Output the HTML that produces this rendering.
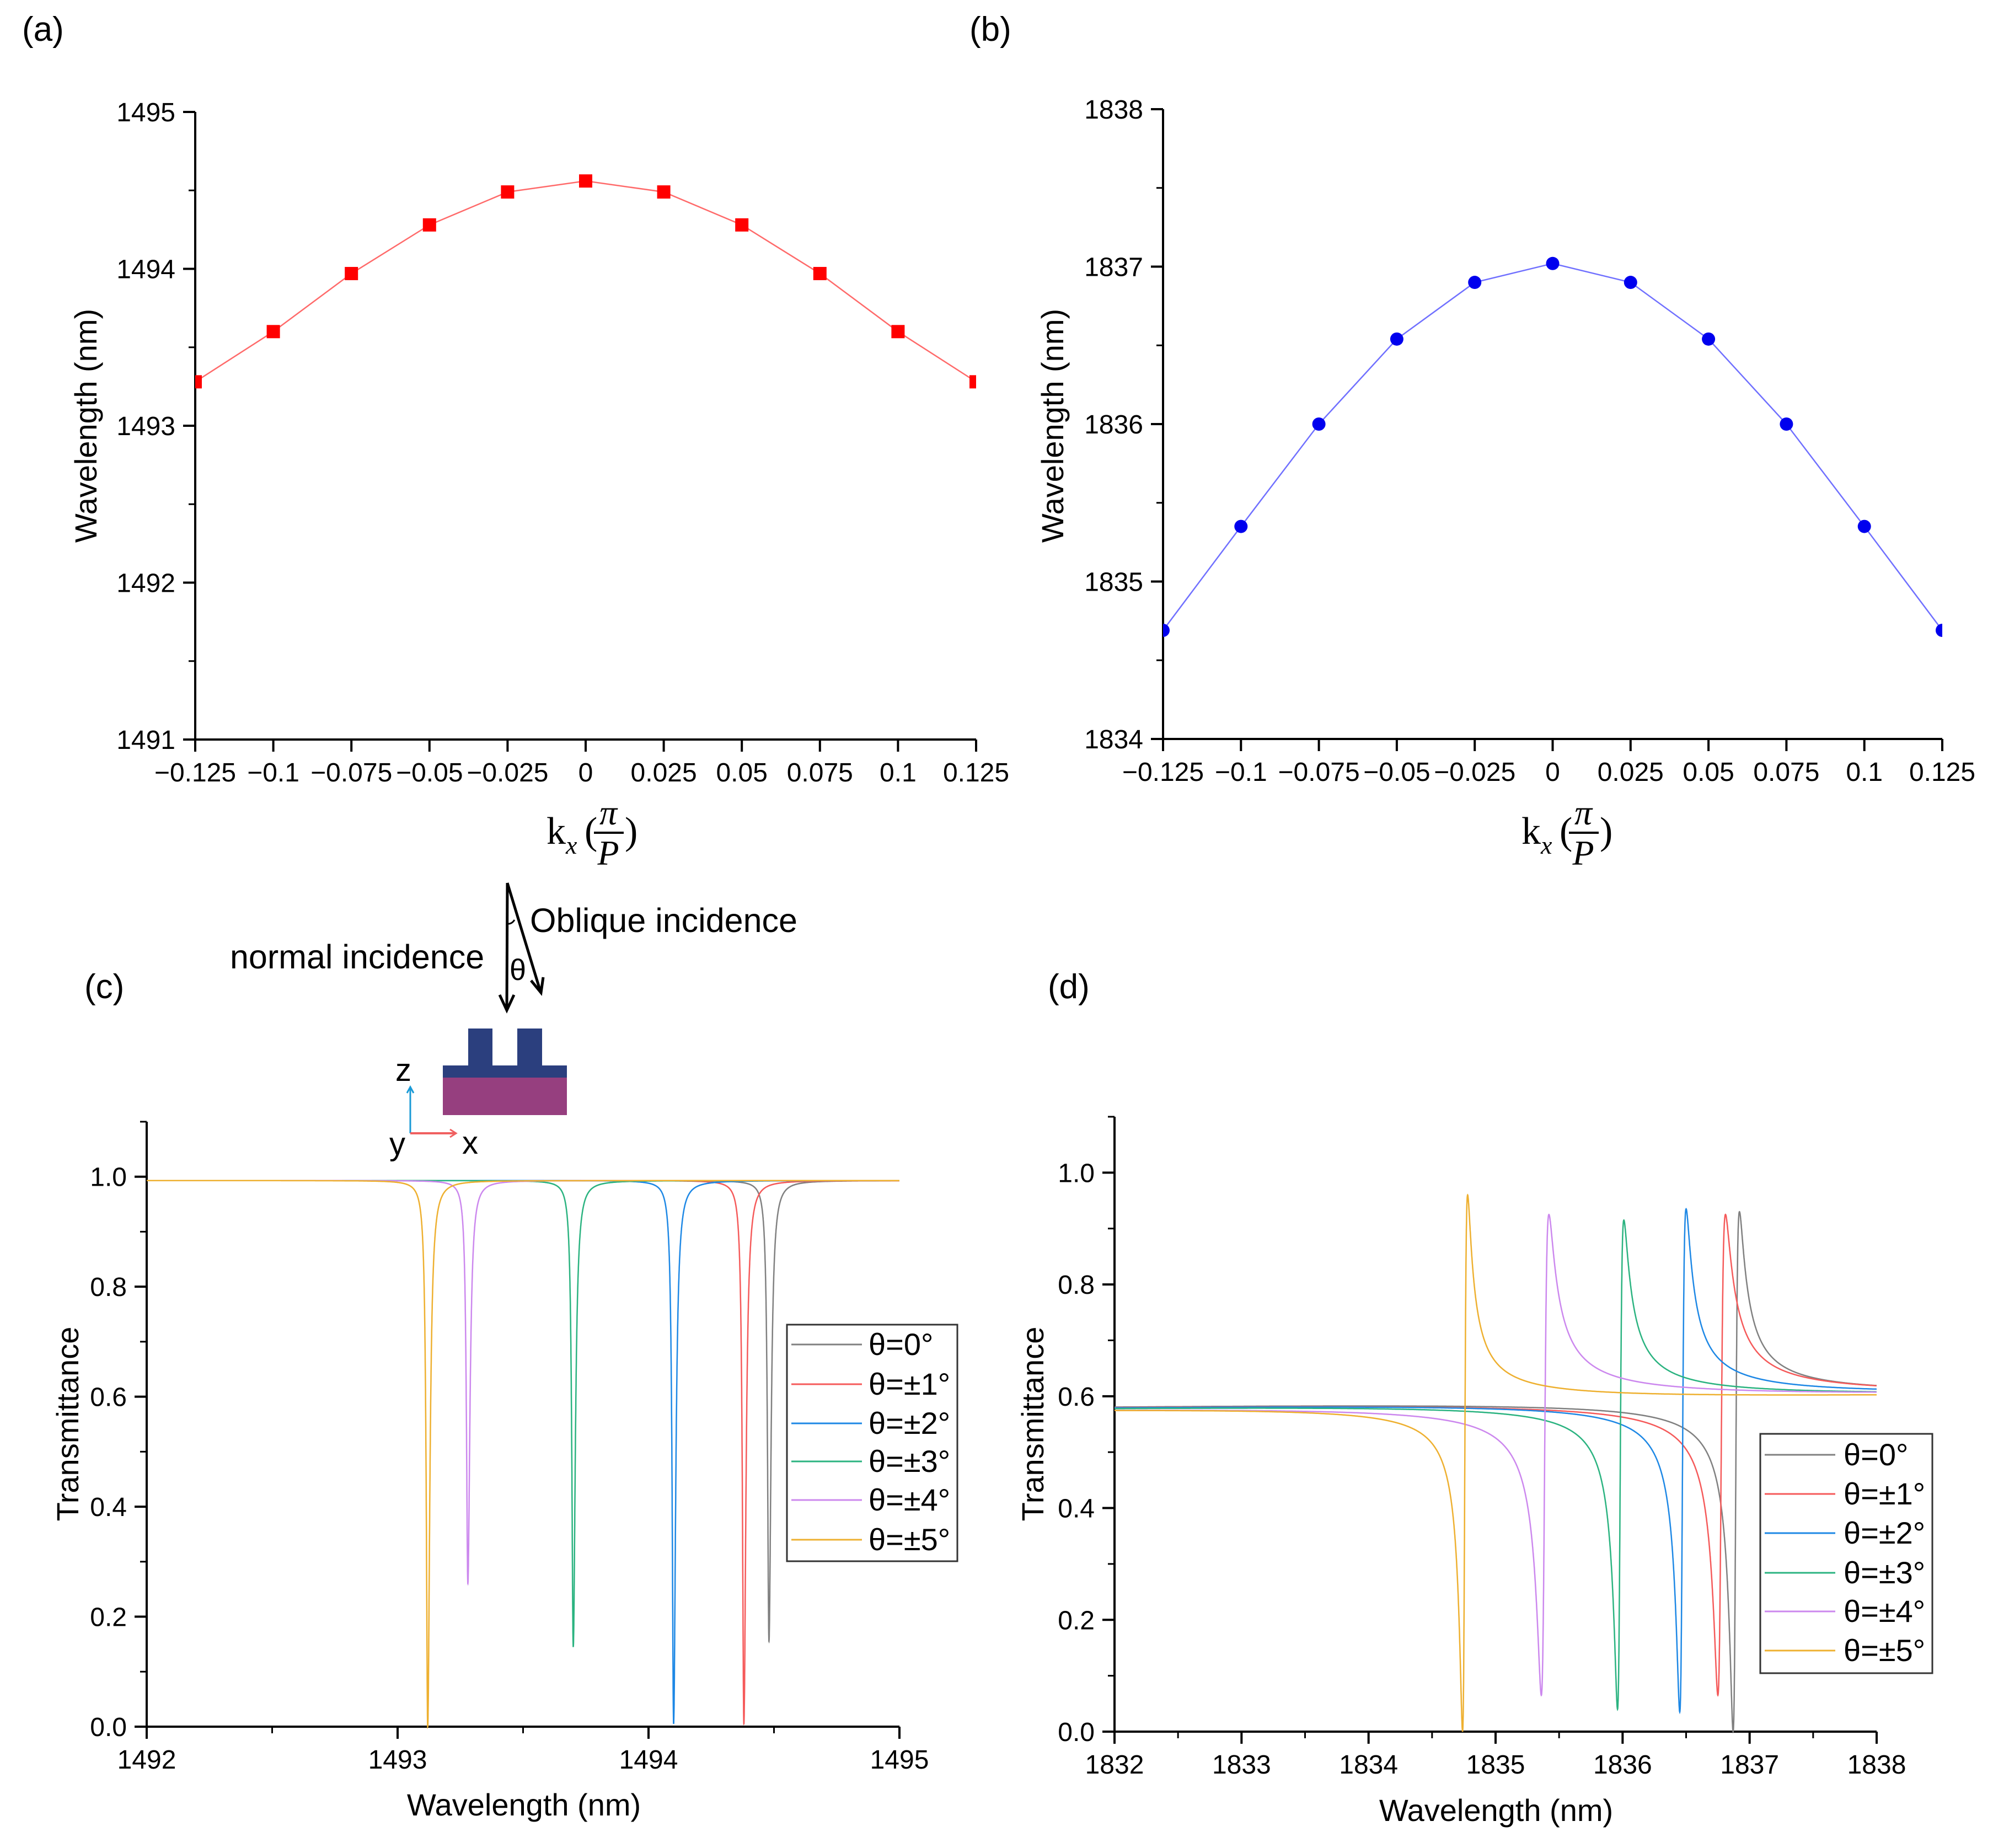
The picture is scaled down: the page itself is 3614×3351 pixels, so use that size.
<!DOCTYPE html>
<html><head><meta charset="utf-8"><style>
html,body{margin:0;padding:0;background:#fff;}
svg{display:block;font-family:"Liberation Sans",Arial,sans-serif;}
</style></head><body>
<svg id="fig" width="3614" height="3351" viewBox="0 0 3614 3351" xmlns="http://www.w3.org/2000/svg">
<rect width="3614" height="3351" fill="#fff"/>
<text x="40" y="74" font-size="62">(a)</text>
<text x="1758" y="74" font-size="62">(b)</text>
<text x="153" y="1810" font-size="62">(c)</text>
<text x="1900" y="1810" font-size="62">(d)</text>
<g>
<text x="417" y="1756" font-size="61">normal incidence</text>
<text x="961" y="1690" font-size="61">Oblique incidence</text>
<line x1="920" y1="1601" x2="919" y2="1830" stroke="#000" stroke-width="5"/>
<polyline points="906,1804 919,1832 932,1804" fill="none" stroke="#000" stroke-width="5"/>
<line x1="920" y1="1601" x2="980" y2="1798" stroke="#000" stroke-width="5"/>
<polyline points="963,1778 981,1800 985,1772" fill="none" stroke="#000" stroke-width="5"/>
<path d="M920,1675 Q928,1676 933,1668" fill="none" stroke="#000" stroke-width="3"/>
<text x="924" y="1777" font-size="54">θ</text>
<rect x="849" y="1865" width="44" height="70" fill="#2b3f7e"/>
<rect x="938" y="1865" width="45" height="70" fill="#2b3f7e"/>
<rect x="803" y="1932" width="225" height="23" fill="#2b3f7e"/>
<rect x="803" y="1954" width="225" height="68" fill="#963f7f"/>
<line x1="744" y1="2055" x2="744" y2="1972" stroke="#1a9ad6" stroke-width="3"/>
<polyline points="738,1982 744,1971 750,1982" fill="none" stroke="#1a9ad6" stroke-width="3"/>
<line x1="744" y1="2055" x2="826" y2="2055" stroke="#f06060" stroke-width="4"/>
<polyline points="816,2048 827,2055 816,2062" fill="none" stroke="#f06060" stroke-width="3"/>
<text x="717" y="1960" font-size="58">z</text>
<text x="706" y="2094" font-size="58">y</text>
<text x="838" y="2092" font-size="58">x</text>
</g>
</svg>
<script>
// ---- Panel (a) data ----
const kxValues = [-0.125,-0.1,-0.075,-0.05,-0.025,0,0.025,0.05,0.075,0.1,0.125];
const wavelengthA = [1493.28,1493.6,1493.97,1494.28,1494.49,1494.56,1494.49,1494.28,1493.97,1493.6,1493.28];
// ---- Panel (b) data ----
const wavelengthB = [1834.69,1835.35,1836.0,1836.54,1836.9,1837.02,1836.9,1836.54,1836.0,1835.35,1834.69];
const kxTickLabels = ['\u22120.125','\u22120.1','\u22120.075','\u22120.05','\u22120.025','0','0.025','0.05','0.075','0.1','0.125'];
const yTicksA = [1491,1492,1493,1494,1495];
const yTicksB = [1834,1835,1836,1837,1838];
// ---- Panel (c) data: resonance dips ----
const seriesNames = ['θ=0°','θ=±1°','θ=±2°','θ=±3°','θ=±4°','θ=±5°'];
const dipCenterC = [1494.48,1494.38,1494.10,1493.70,1493.28,1493.12];
const dipMinC = [0.155,0.005,0.005,0.145,0.26,0.0];
const dipWidthC = [0.007,0.007,0.007,0.007,0.007,0.007];
const baseC = [0.993,0.993,0.993,0.993,0.993,0.993];
const xTicksC = [1492,1493,1494,1495];
// ---- Panel (d) data: Fano resonances ----
const dipCenterD = [1836.87,1836.75,1836.45,1835.96,1835.36,1834.74];
const dipMinD = [0.0,0.065,0.035,0.04,0.065,0.0];
const peakCenterD = [1836.92,1836.81,1836.50,1836.01,1835.42,1834.78];
const peakValD = [0.93,0.925,0.935,0.915,0.925,0.96];
const baseLeftD = [0.585,0.585,0.584,0.583,0.582,0.581];
const baseRightD = [0.600,0.599,0.599,0.598,0.598,0.597];
const xTicksD = [1832,1833,1834,1835,1836,1837,1838];
const yTicksT = [0,0.2,0.4,0.6,0.8,1.0];
const colors = ['#808080','#f55a5a','#1e88e5','#2bb380','#cc88ee','#eeb030'];

const NS='http://www.w3.org/2000/svg';
const svg=document.getElementById('fig');
function mk(tag,attrs,parent){const e=document.createElementNS(NS,tag);for(const k in attrs)e.setAttribute(k,attrs[k]);(parent||svg).appendChild(e);return e;}
function scale(d0,d1,r0,r1){return v=>r0+(v-d0)*(r1-r0)/(d1-d0);}

function axes(P,name){
  const g=mk('g',{});
  
  
  mk('line',{x1:P.x0,y1:P.yb,x2:P.x0,y2:P.yt,stroke:'#000','stroke-width':4},g);
  mk('line',{x1:P.x0-2,y1:P.yb,x2:P.x1,y2:P.yb,stroke:'#000','stroke-width':4},g);
  P.yt_ticks.forEach((v,i)=>{
    const y=P.sy(v);
    mk('line',{x1:P.x0-22,y1:y,x2:P.x0,y2:y,stroke:'#000','stroke-width':4},g);
    const t=mk('text',{x:P.x0-36,y:y+17,'font-size':48,'text-anchor':'end'},g);
    
    
    t.textContent=P.ylab[i];
  });
  P.yminor.forEach(v=>{const y=P.sy(v);mk('line',{x1:P.x0-12,y1:y,x2:P.x0,y2:y,stroke:'#000','stroke-width':3},g);});
  P.xt_ticks.forEach((v,i)=>{
    const x=P.sx(v);
    mk('line',{x1:x,y1:P.yb,x2:x,y2:P.yb+22,stroke:'#000','stroke-width':4},g);
    const t=mk('text',{x:x,y:P.yb+76,'font-size':48,'text-anchor':'middle'},g);
    
    
    t.textContent=P.xlab[i];
  });
  P.xminor.forEach(v=>{const x=P.sx(v);mk('line',{x1:x,y1:P.yb,x2:x,y2:P.yb+12,stroke:'#000','stroke-width':3},g);});
  const yt=mk('text',{x:0,y:0,'font-size':56,'text-anchor':'middle',transform:`translate(${P.ytx},${P.yty}) rotate(-90)`},g);
  
  
  yt.textContent=P.ytitle;
}

function kxTitle(cx,name){
  const g=mk('g',{'font-family':'"Liberation Serif",serif'});
  
  
  mk('text',{x:cx-92,y:1530,'font-size':70},g).textContent='k';
  mk('text',{x:cx-57,y:1548,'font-size':46,'font-style':'italic'},g).textContent='x';
  mk('text',{x:cx-23,y:1530,'font-size':70},g).textContent='(';
  mk('text',{x:cx+20,y:1495,'font-size':64,'font-style':'italic','text-anchor':'middle'},g).textContent='π';
  mk('line',{x1:cx-6,y1:1510,x2:cx+48,y2:1510,stroke:'#000','stroke-width':4},g);
  mk('text',{x:cx+20,y:1568,'font-size':64,'font-style':'italic','text-anchor':'middle'},g).textContent='P';
  mk('text',{x:cx+50,y:1530,'font-size':70},g).textContent=')';
}

const PA={x0:354,x1:1770,yb:1341,yt:203};
PA.sx=scale(-0.125,0.125,PA.x0,PA.x1);PA.sy=scale(1491,1495,PA.yb,PA.yt);
PA.yt_ticks=yTicksA;PA.ylab=yTicksA.map(String);PA.yminor=[1491.5,1492.5,1493.5,1494.5];
PA.xt_ticks=kxValues;PA.xlab=kxTickLabels;PA.xminor=[];
PA.ytx=175;PA.yty=772;PA.ytitle='Wavelength (nm)';
axes(PA,'panel-a');kxTitle(1083,'panel-a');
const PB={x0:2109,x1:3522,yb:1340,yt:198};
PB.sx=scale(-0.125,0.125,PB.x0,PB.x1);PB.sy=scale(1834,1838,PB.yb,PB.yt);
PB.yt_ticks=yTicksB;PB.ylab=yTicksB.map(String);PB.yminor=[1834.5,1835.5,1836.5,1837.5];
PB.xt_ticks=kxValues;PB.xlab=kxTickLabels;PB.xminor=[];
PB.ytx=1928;PB.yty=772;PB.ytitle='Wavelength (nm)';
axes(PB,'panel-b');kxTitle(2851,'panel-b');

function dispersion(P,vals,lineColor,markColor,shape,name){
  const g=mk('g',{});
  
  
  const pts=kxValues.map((k,i)=>P.sx(k)+','+P.sy(vals[i])).join(' ');
  const pl=mk('polyline',{points:pts,fill:'none',stroke:lineColor,'stroke-width':2.5},g);
  
  
  kxValues.forEach((k,i)=>{
    const x=P.sx(k),y=P.sy(vals[i]);let m;
    if(shape==='square'){m=mk('rect',{x:x-12,y:y-12,width:24,height:24,fill:markColor},g);}
    else{m=mk('circle',{cx:x,cy:y,r:12,fill:markColor},g);}
    
    
  });
}
const clipA=mk('clipPath',{id:'clipA'});mk('rect',{x:PA.x0,y:0,width:PA.x1-PA.x0,height:1400},clipA);
const clipB=mk('clipPath',{id:'clipB'});mk('rect',{x:PB.x0,y:0,width:PB.x1-PB.x0,height:1400},clipB);
dispersion(PA,wavelengthA,'#ff6a6a','#ff0000','square','panel-a');
svg.lastChild.setAttribute('clip-path','url(#clipA)');
dispersion(PB,wavelengthB,'#7070ff','#0000ee','circle','panel-b');
svg.lastChild.setAttribute('clip-path','url(#clipB)');

const PC={x0:266,x1:1631,yb:3131,yt:2034};
PC.sx=scale(1492,1495,PC.x0,PC.x1);PC.sy=scale(0,1.1,PC.yb,PC.yt);
PC.yt_ticks=yTicksT;PC.ylab=yTicksT.map(v=>v.toFixed(1));PC.yminor=[0.1,0.3,0.5,0.7,0.9,1.1];
PC.xt_ticks=xTicksC;PC.xlab=xTicksC.map(String);PC.xminor=[1492.5,1493.5,1494.5];
PC.ytx=142;PC.yty=2582;PC.ytitle='Transmittance';
axes(PC,'panel-c');
const PD={x0:2021,x1:3403,yb:3140,yt:2025};
PD.sx=scale(1832,1838,PD.x0,PD.x1);PD.sy=scale(0,1.1,PD.yb,PD.yt);
PD.yt_ticks=yTicksT;PD.ylab=yTicksT.map(v=>v.toFixed(1));PD.yminor=[0.1,0.3,0.5,0.7,0.9,1.1];
PD.xt_ticks=xTicksD;PD.xlab=xTicksD.map(String);PD.xminor=[1832.5,1833.5,1834.5,1835.5,1836.5,1837.5];
PD.ytx=1892;PD.yty=2582;PD.ytitle='Transmittance';
axes(PD,'panel-d');
let t=mk('text',{x:950,y:3292,'font-size':56,'text-anchor':'middle'});


t.textContent='Wavelength (nm)';
t=mk('text',{x:2713,y:3302,'font-size':56,'text-anchor':'middle'});


t.textContent='Wavelength (nm)';

function gridWith(a,b,n,extra){const xs=[];for(let i=0;i<=n;i++)xs.push(a+(b-a)*i/n);extra.forEach(v=>xs.push(v));xs.sort((p,q)=>p-q);return xs;}
for(let s=0;s<6;s++){
  const c=dipCenterC[s],w=dipWidthC[s],b=baseC[s],m=dipMinC[s];
  const xs=gridWith(1492,1495,8000,[c]);
  const pts=xs.map(x=>{const e=(x-c)/(x>c?w*1.4:w);const y=b-(b-m)/(1+e*e);return PC.sx(x).toFixed(1)+','+PC.sy(y).toFixed(1);}).join(' ');
  const pl=mk('polyline',{points:pts,fill:'none',stroke:colors[s],'stroke-width':2.5});
  
  
}
for(let s=0;s<6;s++){
  const base=x=>baseLeftD[s]+(baseRightD[s]-baseLeftD[s])*(x-1832)/6;
  const b0=base(dipCenterD[s]);
  const A=b0-dipMinD[s];
  const q=Math.sqrt(Math.max(peakValD[s]-b0,0.01)/A);
  const gam=(peakCenterD[s]-dipCenterD[s])/(q+1/q);
  const l0=dipCenterD[s]+q*gam;
  const xs=gridWith(1832,1838,6000,[dipCenterD[s],peakCenterD[s]]);
  const pts=xs.map(x=>{const e=(x-l0)/gam;const F=(q+e)*(q+e)/(1+e*e)-1;const y=base(x)+A*F;return PD.sx(x).toFixed(1)+','+PD.sy(y).toFixed(1);}).join(' ');
  const pl=mk('polyline',{points:pts,fill:'none',stroke:colors[s],'stroke-width':2.5});
  
  
}

function legend(x,y,w,h,lx0,lx1,tx,ys,name){
  const g=mk('g',{});
  
  
  mk('rect',{x:x,y:y,width:w,height:h,fill:'#fff',stroke:'#333','stroke-width':3},g);
  seriesNames.forEach((n,i)=>{
    mk('line',{x1:lx0,y1:ys[i],x2:lx1,y2:ys[i],stroke:colors[i],'stroke-width':3},g);
    const t=mk('text',{x:tx,y:ys[i]+19,'font-size':56},g);
    
    
    t.textContent=n;
  });
}
legend(1427,2402,309,429,1435,1563,1575,[2438,2510,2581,2650,2720,2792],'panel-c');
legend(3192,2600,312,434,3200,3328,3343,[2638,2709,2780,2852,2922,2993],'panel-d');
</script>
</body></html>
